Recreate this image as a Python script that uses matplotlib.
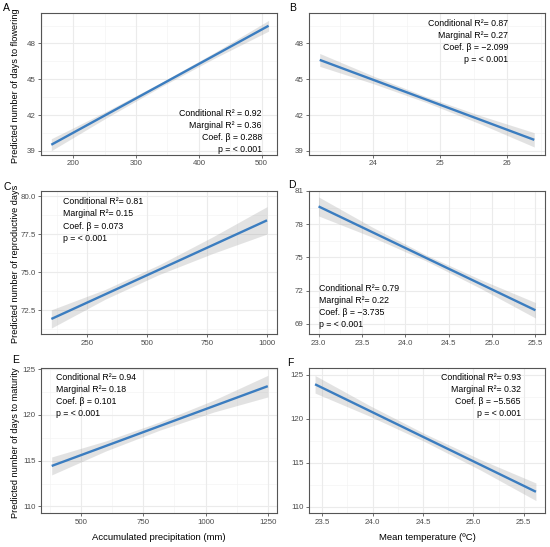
import numpy as np
import matplotlib
matplotlib.use("Agg")
import matplotlib.pyplot as plt
from matplotlib.ticker import FixedLocator, FuncFormatter

plt.rcParams['font.family'] = ['Liberation Sans', 'DejaVu Sans']

# ---------------- data ----------------
panel_letters = ["A", "B", "C", "D", "E", "F"]

ylabels = ["Predicted number of days to flowering", None,
           "Predicted number of reproductive days", None,
           "Predicted number of days to maturity", None]
xlabels = [None, None, None, None,
           "Accumulated precipitation (mm)", "Mean temperature (ºC)"]

# fitted line end points (x, y)
line_x = [[165, 511], [23.2, 26.4], [100, 1000], [23.0, 25.5], [382, 1250], [23.43, 25.62]]
line_y = [[39.51, 49.48], [46.62, 39.92], [71.93, 78.42], [79.60, 70.22], [114.42, 123.13], [123.93, 111.70]]

# confidence band half widths at start, 25%, 50%, 75%, end of the line
band_hw = [[0.50, 0.28, 0.18, 0.24, 0.45],
           [0.54, 0.32, 0.24, 0.35, 0.60],
           [0.60, 0.32, 0.32, 0.55, 0.90],
           [0.86, 0.45, 0.27, 0.40, 0.70],
           [0.98, 0.55, 0.45, 0.65, 1.18],
           [1.00, 0.60, 0.45, 0.60, 1.00]]

xticks = [[200, 300, 400, 500], [24, 25, 26], [250, 500, 750, 1000],
          [23.0, 23.5, 24.0, 24.5, 25.0, 25.5], [500, 750, 1000, 1250],
          [23.5, 24.0, 24.5, 25.0, 25.5]]
xtick_fmt = ["{:.0f}", "{:.0f}", "{:.0f}", "{:.1f}", "{:.0f}", "{:.1f}"]
yticks = [[39, 42, 45, 48], [39, 42, 45, 48], [72.5, 75.0, 77.5, 80.0],
          [69, 72, 75, 78, 81], [110, 115, 120, 125], [110, 115, 120, 125]]
ytick_fmt = ["{:.0f}", "{:.0f}", "{:.1f}", "{:.0f}", "{:.0f}", "{:.0f}"]

xlims = [(148.6, 524.4), (23.04, 26.56), (56.8, 1041.7), (22.89, 25.61), (339, 1287), (23.37, 25.71)]
ylims = [(38.65, 50.55), (38.65, 50.55), (70.92, 80.37), (68.05, 81.02), (109.25, 125.08), (109.25, 125.75)]

annotations = [
    ["Conditional R² = 0.92", "Marginal R² = 0.36", "Coef. β = 0.288", "p = < 0.001"],
    ["Conditional R²= 0.87", "Marginal R²= 0.27", "Coef. β = −2.099", "p = < 0.001"],
    ["Conditional R²= 0.81", "Marginal R²= 0.15", "Coef. β = 0.073", "p = < 0.001"],
    ["Conditional R²= 0.79", "Marginal R²= 0.22", "Coef. β = −3.735", "p = < 0.001"],
    ["Conditional R²= 0.94", "Marginal R²= 0.18", "Coef. β = 0.101", "p = < 0.001"],
    ["Conditional R²= 0.93", "Marginal R²= 0.32", "Coef. β = −5.565", "p = < 0.001"],
]

# ---------------- layout ----------------
W, H = 550, 547
fig = plt.figure(figsize=(W / 100, H / 100), dpi=100)

col_px = [(41, 277), (309, 545)]
row_px = [(13, 155), (190.7, 334.3), (368.3, 513.3)]

# annotation placement (axes fraction x, y center, alignment)
ann_pos = [(0.936, 0.166, 'right'), (0.845, 0.801, 'right'),
           (0.094, 0.796, 'left'), (0.044, 0.195, 'left'),
           (0.062, 0.812, 'left'), (0.897, 0.812, 'right')]
letter_px = [(3, 3), (289, 3), (3, 182), (288, 180), (12, 355), (287, 358)]

LINE_C = "#3B7DC0"
GRID_MAJ = "#EBEBEB"
GRID_MIN = "#F4F4F4"
BORDER = "#555555"

for i in range(6):
    r, c = divmod(i, 2)
    x0, x1 = col_px[c]
    y0, y1 = row_px[r]
    ax = fig.add_axes([x0 / W, 1 - y1 / H, (x1 - x0) / W, (y1 - y0) / H])
    ax.set_xlim(*xlims[i])
    ax.set_ylim(*ylims[i])

    # grid: major at ticks, minor midway
    xt = np.array(xticks[i], dtype=float)
    yt = np.array(yticks[i], dtype=float)
    dx = xt[1] - xt[0]
    dy = yt[1] - yt[0]
    xminor = np.concatenate([[xt[0] - dx / 2], xt + dx / 2])
    yminor = np.concatenate([[yt[0] - dy / 2], yt + dy / 2])
    for v in xminor:
        ax.axvline(v, color=GRID_MIN, lw=0.5, zorder=0)
    for v in yminor:
        ax.axhline(v, color=GRID_MIN, lw=0.5, zorder=0)
    for v in xt:
        ax.axvline(v, color=GRID_MAJ, lw=0.8, zorder=0)
    for v in yt:
        ax.axhline(v, color=GRID_MAJ, lw=0.8, zorder=0)

    # band
    lx = np.array(line_x[i], dtype=float)
    ly = np.array(line_y[i], dtype=float)
    hw = np.array(band_hw[i], dtype=float)
    bx = np.linspace(lx[0], lx[1], len(hw))
    by = np.interp(bx, lx, ly)
    ax.fill_between(bx, by - hw, by + hw, color="#999999", alpha=0.28, lw=0, zorder=1)
    ax.plot(lx, ly, color=LINE_C, lw=1.7, solid_capstyle='butt', zorder=2)

    ax.xaxis.set_major_locator(FixedLocator(xticks[i]))
    ax.yaxis.set_major_locator(FixedLocator(yticks[i]))
    fx, fy = xtick_fmt[i], ytick_fmt[i]
    ax.xaxis.set_major_formatter(FuncFormatter(lambda v, p, f=fx: f.format(v)))
    ax.yaxis.set_major_formatter(FuncFormatter(lambda v, p, f=fy: f.format(v)))
    ax.tick_params(axis='both', labelsize=5.7, labelcolor="#4D4D4D", color=BORDER,
                   length=2.0, width=0.6, pad=1.8)
    for s in ax.spines.values():
        s.set_color(BORDER)
        s.set_linewidth(0.8)

    if ylabels[i]:
        ax.set_ylabel(ylabels[i], fontsize=6.6, color="black")
        ax.yaxis.set_label_coords(-0.088, 0.49)
    if xlabels[i]:
        ax.set_xlabel(xlabels[i], fontsize=6.8, color="black")
        ax.xaxis.set_label_coords(0.5, -0.135)

    axx, axy, ha = ann_pos[i]
    ax.text(axx, axy, "\n".join(annotations[i]), transform=ax.transAxes,
            ha=ha, va='center', multialignment=ha, fontsize=6.3,
            linespacing=1.45, color="black", zorder=3)

    lxp, lyp = letter_px[i]
    fig.text(lxp / W, 1 - lyp / H, panel_letters[i], fontsize=7.5,
             ha='left', va='top', color="black")

fig.savefig("out.png", dpi=100)
